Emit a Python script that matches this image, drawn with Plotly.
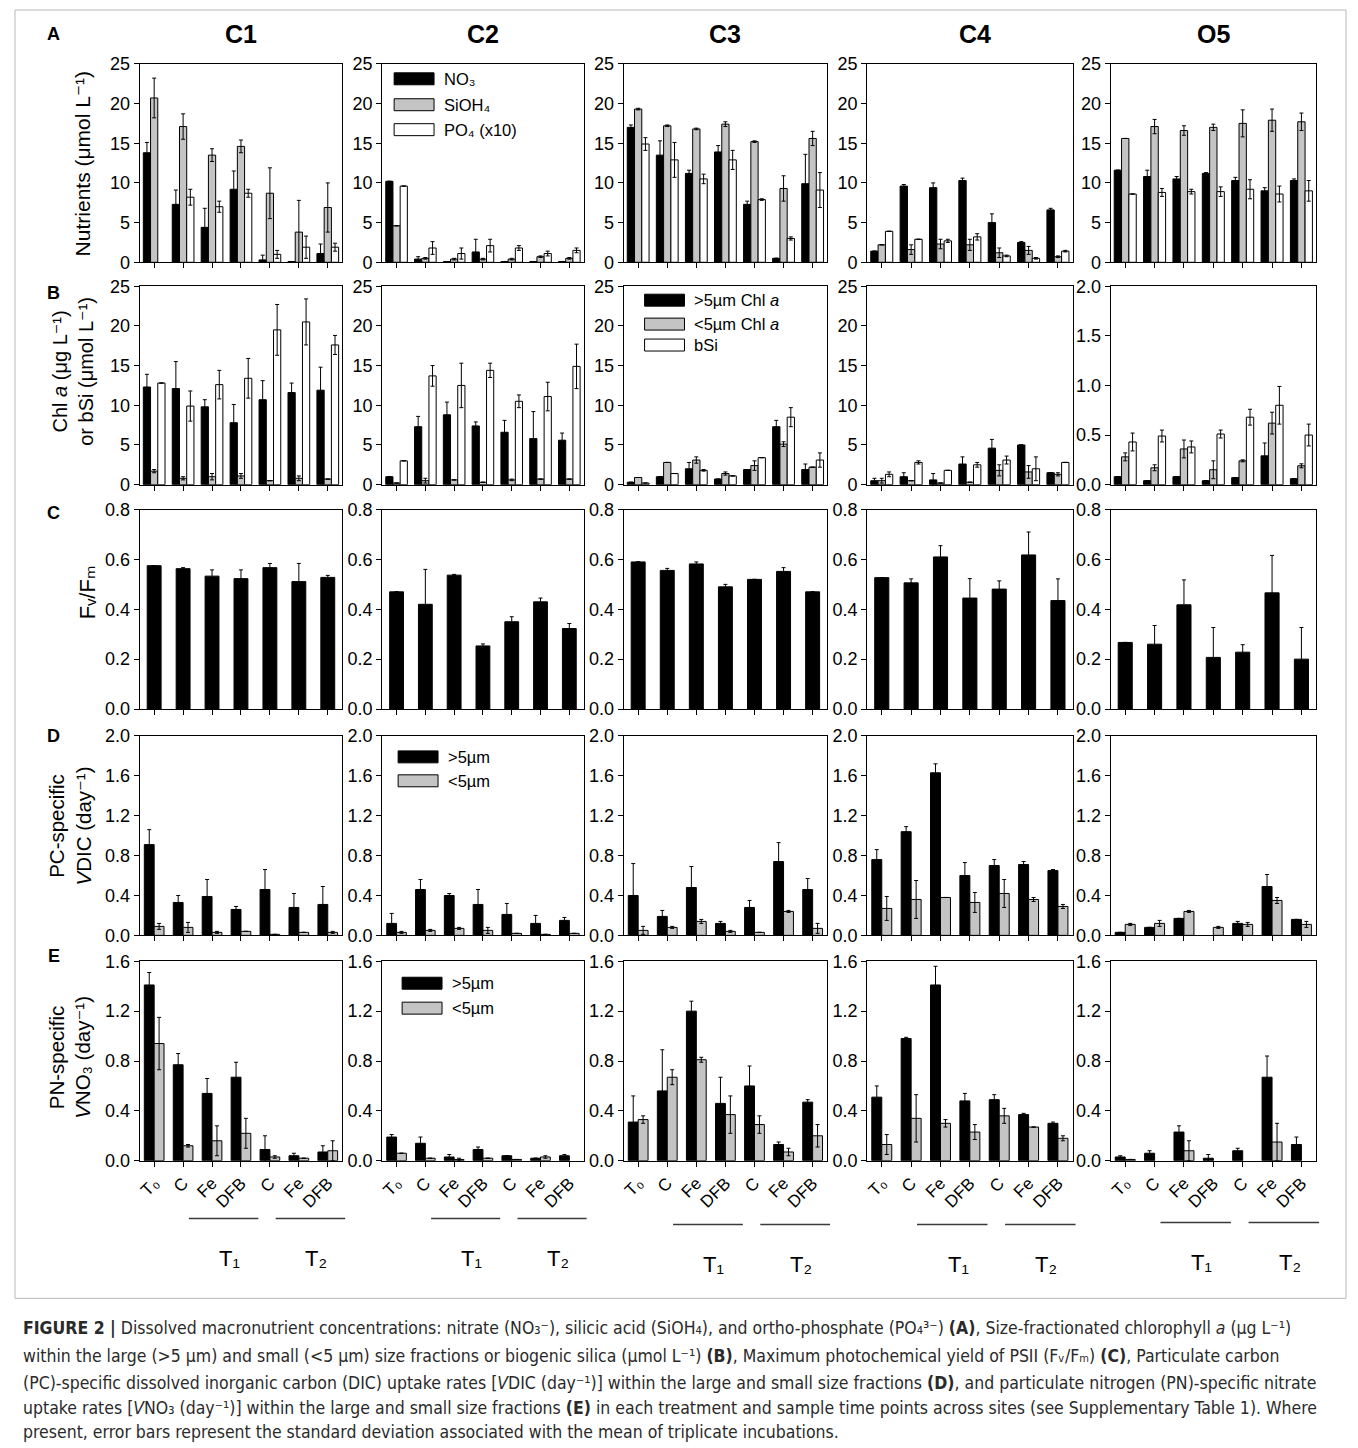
import plotly.graph_objects as go

W, H = 1358, 1448

sites = ["C1", "C2", "C3", "C4", "O5"]
treatments = ["T0", "C", "Fe", "DFB", "C", "Fe", "DFB"]
tick_text = ["T₀", "C", "Fe", "DFB", "C", "Fe", "DFB"]

# ---- (A) dissolved nutrients (umol/L); PO4 shown x10 ----
no3 = {
    "C1": [13.8, 7.3, 4.4, 9.2, 0.3, 0.1, 1.1],
    "C2": [10.2, 0.4, 0.1, 1.3, 0.1, 0.1, 0.1],
    "C3": [17.0, 13.5, 11.2, 13.9, 7.3, 0.5, 9.9],
    "C4": [1.4, 9.6, 9.4, 10.3, 5.0, 2.5, 6.6],
    "O5": [11.6, 10.8, 10.5, 11.2, 10.3, 9.0, 10.3],
}
no3_sd = {
    "C1": [1.3, 1.8, 2.4, 2.3, 0.6, 0.0, 1.2],
    "C2": [0.0, 0.3, 0.0, 1.6, 0.0, 0.0, 0.0],
    "C3": [0.3, 1.8, 0.4, 0.8, 0.4, 0.0, 3.7],
    "C4": [0.0, 0.2, 0.6, 0.3, 1.1, 0.1, 0.2],
    "O5": [0.0, 0.8, 0.3, 0.1, 0.4, 0.4, 0.2],
}
sioh4 = {
    "C1": [20.7, 17.1, 13.5, 14.6, 8.7, 3.8, 6.9],
    "C2": [4.6, 0.5, 0.4, 0.4, 0.4, 0.7, 0.5],
    "C3": [19.3, 17.2, 16.8, 17.4, 15.2, 9.3, 15.6],
    "C4": [2.2, 1.6, 2.3, 2.2, 1.2, 1.5, 0.7],
    "O5": [15.6, 17.1, 16.6, 17.0, 17.5, 17.9, 17.7],
}
sioh4_sd = {
    "C1": [2.5, 1.6, 0.8, 0.8, 3.2, 4.0, 3.1],
    "C2": [0.0, 0.1, 0.1, 0.1, 0.1, 0.1, 0.1],
    "C3": [0.1, 0.1, 0.1, 0.3, 0.1, 1.6, 0.9],
    "C4": [0.0, 0.6, 0.6, 0.7, 0.6, 0.5, 0.1],
    "O5": [0.0, 0.9, 0.6, 0.4, 1.7, 1.4, 1.1],
}
po4x10 = {
    "C1": [None, 8.2, 7.0, 8.7, 1.0, 1.9, 1.9],
    "C2": [9.6, 1.8, 1.1, 2.1, 1.8, 1.1, 1.5],
    "C3": [14.9, 12.9, 10.5, 12.9, 7.9, 3.0, 9.1],
    "C4": [3.9, 2.9, 2.7, 3.2, 0.8, 0.5, 1.4],
    "O5": [8.6, 8.8, 8.9, 8.9, 9.2, 8.6, 9.0],
}
po4x10_sd = {
    "C1": [0.0, 1.0, 0.7, 0.5, 0.5, 1.4, 0.5],
    "C2": [0.0, 0.8, 0.7, 0.8, 0.3, 0.3, 0.3],
    "C3": [0.8, 2.2, 0.6, 1.2, 0.1, 0.2, 2.2],
    "C4": [0.0, 0.0, 0.2, 0.4, 0.1, 0.1, 0.1],
    "O5": [0.0, 0.5, 0.3, 0.6, 1.2, 1.0, 1.3],
}

# ---- (B) size-fractionated Chl a (ug/L) and biogenic silica (umol/L) ----
chl_gt5 = {
    "C1": [12.3, 12.1, 9.8, 7.8, 10.7, 11.6, 11.9],
    "C2": [1.0, 7.3, 8.8, 7.4, 6.6, 5.8, 5.6],
    "C3": [0.3, 1.0, 2.0, 0.7, 1.9, 7.3, 1.9],
    "C4": [0.5, 1.0, 0.6, 2.6, 4.6, 5.0, 1.5],
    "O5": [0.08, 0.04, 0.08, 0.04, 0.07, 0.29, 0.06],
}
chl_gt5_sd = {
    "C1": [1.6, 3.4, 0.9, 2.3, 2.4, 1.2, 2.9],
    "C2": [0.0, 1.3, 1.6, 0.5, 1.5, 3.4, 0.9],
    "C3": [0.0, 0.0, 0.8, 0.0, 0.0, 0.8, 0.7],
    "C4": [0.3, 0.5, 0.8, 0.9, 1.1, 0.0, 0.0],
    "O5": [0.0, 0.0, 0.0, 0.0, 0.0, 0.13, 0.0],
}
chl_lt5 = {
    "C1": [1.7, 0.8, 1.0, 1.1, 0.5, 0.8, 0.7],
    "C2": [0.2, 0.5, 0.6, 0.3, 0.6, 0.7, 0.7],
    "C3": [0.9, 2.8, 3.1, 1.4, 2.4, 5.1, 2.2],
    "C4": [0.5, 0.5, 0.2, 0.3, 1.8, 1.6, 1.3],
    "O5": [0.28, 0.17, 0.36, 0.15, 0.24, 0.62, 0.19],
}
chl_lt5_sd = {
    "C1": [0.2, 0.2, 0.4, 0.3, 0.0, 0.3, 0.0],
    "C2": [0.0, 0.3, 0.0, 0.0, 0.1, 0.0, 0.0],
    "C3": [0.0, 0.0, 0.4, 0.2, 0.6, 0.3, 0.0],
    "C4": [0.3, 0.0, 0.0, 0.0, 0.7, 0.8, 0.2],
    "O5": [0.04, 0.03, 0.09, 0.09, 0.01, 0.11, 0.02],
}
bsi = {
    "C1": [12.8, 9.9, 12.6, 13.4, 19.5, 20.5, 17.6],
    "C2": [3.0, 13.7, 12.5, 14.4, 10.5, 11.1, 14.9],
    "C3": [0.2, 1.4, 1.8, 1.1, 3.4, 8.5, 3.1],
    "C4": [1.3, 2.8, 1.8, 2.5, 3.1, 2.0, 2.8],
    "O5": [0.43, 0.49, 0.38, 0.51, 0.68, 0.80, 0.50],
}
bsi_sd = {
    "C1": [0.0, 1.9, 1.8, 2.5, 3.2, 2.9, 1.2],
    "C2": [0.0, 1.3, 2.8, 0.9, 0.8, 1.8, 2.8],
    "C3": [0.0, 0.0, 0.1, 0.0, 0.0, 1.2, 0.9],
    "C4": [0.3, 0.2, 0.0, 0.3, 0.5, 1.5, 0.0],
    "O5": [0.09, 0.06, 0.06, 0.04, 0.08, 0.19, 0.11],
}

# ---- (C) maximum photochemical yield of PSII ----
fvfm = {
    "C1": [0.575, 0.563, 0.533, 0.523, 0.567, 0.511, 0.528],
    "C2": [0.47, 0.42, 0.537, 0.253, 0.35, 0.43, 0.323],
    "C3": [0.59, 0.556, 0.582, 0.49, 0.52, 0.552, 0.47],
    "C4": [0.527, 0.506, 0.61, 0.445, 0.481, 0.618, 0.435],
    "O5": [0.267, 0.26, 0.418, 0.207, 0.228, 0.466, 0.2],
}
fvfm_sd = {
    "C1": [0.0, 0.004, 0.025, 0.035, 0.017, 0.073, 0.008],
    "C2": [0.0, 0.14, 0.003, 0.008, 0.02, 0.015, 0.02],
    "C3": [0.0, 0.008, 0.008, 0.01, 0.0, 0.015, 0.0],
    "C4": [0.0, 0.016, 0.045, 0.078, 0.033, 0.092, 0.087],
    "O5": [0.0, 0.075, 0.1, 0.12, 0.03, 0.15, 0.127],
}

# ---- (D) PC-specific DIC uptake (1/day) ----
vdic_gt5 = {
    "C1": [0.91, 0.33, 0.39, 0.26, 0.46, 0.28, 0.31],
    "C2": [0.12, 0.46, 0.40, 0.31, 0.21, 0.12, 0.15],
    "C3": [0.40, 0.19, 0.48, 0.12, 0.28, 0.74, 0.46],
    "C4": [0.76, 1.04, 1.63, 0.60, 0.70, 0.71, 0.65],
    "O5": [0.03, 0.08, 0.17, None, 0.12, 0.49, 0.16],
}
vdic_gt5_sd = {
    "C1": [0.15, 0.07, 0.17, 0.03, 0.20, 0.14, 0.18],
    "C2": [0.10, 0.10, 0.02, 0.15, 0.11, 0.08, 0.03],
    "C3": [0.32, 0.06, 0.21, 0.02, 0.07, 0.19, 0.11],
    "C4": [0.10, 0.05, 0.09, 0.13, 0.06, 0.03, 0.01],
    "O5": [0.0, 0.0, 0.0, 0.0, 0.02, 0.12, 0.0],
}
vdic_lt5 = {
    "C1": [0.09, 0.08, 0.03, 0.04, 0.01, 0.03, 0.03],
    "C2": [0.03, 0.05, 0.07, 0.05, 0.02, 0.01, 0.02],
    "C3": [0.05, 0.08, 0.14, 0.04, 0.03, 0.24, 0.07],
    "C4": [0.27, 0.36, 0.38, 0.33, 0.42, 0.36, 0.29],
    "O5": [0.11, 0.12, 0.24, 0.08, 0.11, 0.35, 0.11],
}
vdic_lt5_sd = {
    "C1": [0.03, 0.05, 0.01, 0.0, 0.0, 0.0, 0.01],
    "C2": [0.01, 0.01, 0.01, 0.03, 0.0, 0.0, 0.0],
    "C3": [0.04, 0.01, 0.02, 0.01, 0.0, 0.01, 0.05],
    "C4": [0.12, 0.19, 0.0, 0.10, 0.14, 0.02, 0.02],
    "O5": [0.01, 0.03, 0.01, 0.01, 0.02, 0.03, 0.03],
}

# ---- (E) PN-specific nitrate uptake (1/day) ----
vno3_gt5 = {
    "C1": [1.41, 0.77, 0.54, 0.67, 0.09, 0.04, 0.07],
    "C2": [0.19, 0.14, 0.03, 0.09, 0.04, 0.02, 0.04],
    "C3": [0.31, 0.56, 1.20, 0.46, 0.60, 0.13, 0.47],
    "C4": [0.51, 0.98, 1.41, 0.48, 0.49, 0.37, 0.30],
    "O5": [0.03, 0.06, 0.23, 0.02, 0.08, 0.67, 0.13],
}
vno3_gt5_sd = {
    "C1": [0.10, 0.09, 0.12, 0.12, 0.11, 0.02, 0.05],
    "C2": [0.02, 0.05, 0.02, 0.02, 0.0, 0.0, 0.01],
    "C3": [0.21, 0.33, 0.08, 0.21, 0.16, 0.02, 0.02],
    "C4": [0.09, 0.01, 0.15, 0.06, 0.04, 0.01, 0.01],
    "O5": [0.01, 0.02, 0.05, 0.03, 0.02, 0.17, 0.06],
}
vno3_lt5 = {
    "C1": [0.94, 0.12, 0.16, 0.22, 0.03, 0.02, 0.08],
    "C2": [0.06, 0.02, 0.01, 0.02, 0.01, 0.03, None],
    "C3": [0.33, 0.67, 0.81, 0.37, 0.29, 0.07, 0.20],
    "C4": [0.13, 0.34, 0.30, 0.23, 0.36, 0.27, 0.18],
    "O5": [0.01, None, 0.08, None, None, 0.15, None],
}
vno3_lt5_sd = {
    "C1": [0.21, 0.01, 0.12, 0.12, 0.01, 0.0, 0.08],
    "C2": [0.0, 0.0, 0.01, 0.0, 0.0, 0.01, 0.0],
    "C3": [0.03, 0.06, 0.02, 0.15, 0.07, 0.03, 0.09],
    "C4": [0.08, 0.19, 0.03, 0.06, 0.06, 0.0, 0.02],
    "O5": [0.0, 0.0, 0.08, 0.0, 0.0, 0.15, 0.0],
}

BLACK, GRAY, WHITE = "#000000", "#c4c4c4", "#ffffff"
FONT = "Liberation Sans, Arial, DejaVu Sans, sans-serif"

# panel geometry in pixels (left, right) / (top, bottom)
col_px = [(137, 340), (380, 582), (622, 826), (866, 1072), (1110, 1316)]
row_px = [(62, 261), (285, 484), (509, 709), (736, 936), (962, 1162)]

# vertical page placement: small top inset and stretch of the layout grid
Y0, YS = 8.0, 0.989


def fx(px):
    return px / W


def fy(py):
    return 1 - ((py - Y0) / YS) / H


rows = [
    [(no3, no3_sd, BLACK), (sioh4, sioh4_sd, GRAY), (po4x10, po4x10_sd, WHITE)],
    [(chl_gt5, chl_gt5_sd, BLACK), (chl_lt5, chl_lt5_sd, GRAY), (bsi, bsi_sd, WHITE)],
    [(fvfm, fvfm_sd, BLACK)],
    [(vdic_gt5, vdic_gt5_sd, BLACK), (vdic_lt5, vdic_lt5_sd, GRAY)],
    [(vno3_gt5, vno3_gt5_sd, BLACK), (vno3_lt5, vno3_lt5_sd, GRAY)],
]


def y_scale(r, site):
    if r == 0:
        return 25, 5, "d"
    if r == 1:
        return (2.0, 0.5, ".1f") if site == "O5" else (25, 5, "d")
    if r == 2:
        return 0.8, 0.2, ".1f"
    if r == 3:
        return 2.0, 0.4, ".1f"
    return 1.6, 0.4, ".1f"


bar_layout = {
    3: (0.25, [-0.375, -0.125, 0.125]),
    2: (0.34, [-0.34, 0.0]),
    1: (0.48, [-0.24]),
}

x_pos = list(range(len(treatments)))
fig = go.Figure()
layout = {}

for r, series in enumerate(rows):
    top, bot = row_px[r]
    width, offsets = bar_layout[len(series)]
    for c, site in enumerate(sites):
        n = r * 5 + c + 1
        xa = "x" if n == 1 else f"x{n}"
        ya = "y" if n == 1 else f"y{n}"
        for (vals, sds, color), off in zip(series, offsets):
            fig.add_trace(go.Bar(
                x=x_pos, y=vals[site], xaxis=xa, yaxis=ya,
                width=width, offset=off,
                marker=dict(color=color, line=dict(color="black", width=1)),
                error_y=dict(type="data", array=sds[site], visible=True,
                             color="black", thickness=1, width=2),
                showlegend=False, hoverinfo="skip",
            ))
        left, right = col_px[c]
        ymax, dtick, fmt = y_scale(r, site)
        layout["xaxis" if n == 1 else f"xaxis{n}"] = dict(
            domain=[fx(left), fx(right)], anchor=ya, range=[-0.5, 6.5],
            tickvals=x_pos, ticktext=tick_text, showticklabels=(r == 4),
            tickangle=-45, tickfont=dict(family=FONT, size=17, color="black"),
            ticks="outside", ticklen=5, tickcolor="black",
            showline=True, mirror=True, linecolor="black", linewidth=1,
            showgrid=False, zeroline=False, fixedrange=True,
        )
        layout["yaxis" if n == 1 else f"yaxis{n}"] = dict(
            domain=[fy(bot), fy(top)], anchor=xa, range=[0, ymax],
            tick0=0, dtick=dtick, tickformat=fmt,
            tickfont=dict(family=FONT, size=18, color="black"),
            ticks="outside", ticklen=5, tickcolor="black",
            showline=True, mirror=True, linecolor="black", linewidth=1,
            showgrid=False, zeroline=False, fixedrange=True,
        )

ann = []
shapes = []


def text(x, y, s, size=17, bold=False, xanchor="center", angle=0, color="black",
         family=FONT, yanchor="middle"):
    ann.append(dict(x=fx(x), y=fy(y), xref="paper", yref="paper", text=s,
                    showarrow=False, xanchor=xanchor, yanchor=yanchor,
                    textangle=angle,
                    font=dict(family=family, size=size, color=color,
                              weight="bold" if bold else "normal")))


# column titles and row letters
for (left, right), site in zip(col_px, sites):
    text((left + right) / 2 + (5 if site == "C4" else 0), 32, site, size=25, bold=True)
for letter, yy in zip("ABCDE", [32, 292, 512, 736, 957]):
    text(51, yy, letter, size=18, bold=True)

# y-axis titles
text(80, 162, "Nutrients (μmol L⁻¹)", size=21, angle=-90)
text(70, 370, "Chl <i>a</i> (μg L⁻¹)<br>or bSi (μmol L⁻¹)", size=20, angle=-90)
text(85, 592, "Fᵥ/Fₘ", size=22, angle=-90)
text(67, 826, "PC-specific<br><i>V</i>DIC (day⁻¹)", size=20.5, angle=-90)
text(67, 1058, "PN-specific<br><i>V</i>NO₃ (day⁻¹)", size=20.5, angle=-90)


# in-panel legends
def legend(x0, entries):
    for (yc, color, label) in entries:
        shapes.append(dict(type="rect", xref="paper", yref="paper",
                           x0=fx(x0), x1=fx(x0 + 40), y0=fy(yc + 6), y1=fy(yc - 6),
                           fillcolor=color, line=dict(color="black", width=1)))
        text(x0 + 48, yc, label, size=16.5, xanchor="left")


legend(392, [(77, BLACK, "NO₃"), (103, GRAY, "SiOH₄"), (128, WHITE, "PO₄ (x10)")])
legend(643, [(299, BLACK, "&gt;5µm Chl <i>a</i>"), (323, GRAY, "&lt;5µm Chl <i>a</i>"),
             (344, WHITE, "bSi")])
legend(396, [(757, BLACK, "&gt;5µm"), (781, GRAY, "&lt;5µm")])
legend(400, [(984, BLACK, "&gt;5µm"), (1009, GRAY, "&lt;5µm")])

# treatment-period brackets under the bottom row
bracket_y = [1220, 1220, 1226, 1226, 1224]
for (left, right), yb in zip(col_px, bracket_y):
    s = (right - left) / 7
    tick = [left + s * (i + 0.5) for i in x_pos]
    for first, last, lab in [(1, 3, "T₁"), (4, 6, "T₂")]:
        xa0, xa1 = tick[first] + 0.2 * s, tick[last] + 0.6 * s
        shapes.append(dict(type="line", xref="paper", yref="paper",
                           x0=fx(xa0), x1=fx(xa1), y0=fy(yb), y1=fy(yb),
                           line=dict(color="#3a3a3a", width=1.5)))
        text((xa0 + xa1) / 2 + 6, yb + 40, lab, size=22)

# figure frame
shapes.append(dict(type="rect", xref="paper", yref="paper",
                   x0=fx(12), x1=fx(1346), y0=fy(1300), y1=fy(8),
                   line=dict(color="#b8b8b8", width=1), fillcolor="rgba(0,0,0,0)"))

# caption
CAP = "Liberation Sans Narrow, Arial Narrow, DejaVu Sans Condensed, sans-serif"
caption = [
    "<b>FIGURE 2 |</b> Dissolved macronutrient concentrations: nitrate (NO₃⁻), "
    "silicic acid (SiOH₄), and ortho-phosphate (PO₄³⁻) <b>(A)</b>, "
    "Size-fractionated chlorophyll <i>a</i> (µg L⁻¹)",
    "within the large (&gt;5 µm) and small (&lt;5 µm) size fractions or biogenic silica "
    "(µmol L⁻¹) <b>(B)</b>, Maximum photochemical yield of PSII "
    "(Fᵥ/Fₘ) <b>(C)</b>, Particulate carbon",
    "(PC)-specific dissolved inorganic carbon (DIC) uptake rates [<i>V</i>DIC (day⁻¹)] "
    "within the large and small size fractions <b>(D)</b>, and particulate nitrogen (PN)-specific nitrate",
    "uptake rates [<i>V</i>NO₃ (day⁻¹)] within the large and small size fractions "
    "<b>(E)</b> in each treatment and sample time points across sites (see Supplementary Table 1). Where",
    "present, error bars represent the standard deviation associated with the mean of triplicate incubations.",
]
caption_y = [1330, 1358, 1385, 1410, 1434]
for line, yy in zip(caption, caption_y):
    text(18, yy, line, size=17.5, xanchor="left", color="#2a2a2a", family=CAP)

fig.update_layout(
    width=W, height=H, margin=dict(l=0, r=0, t=0, b=0),
    paper_bgcolor="white", plot_bgcolor="white",
    barmode="overlay", showlegend=False,
    annotations=ann, shapes=shapes,
    **layout,
)

fig.write_html("out.html")
